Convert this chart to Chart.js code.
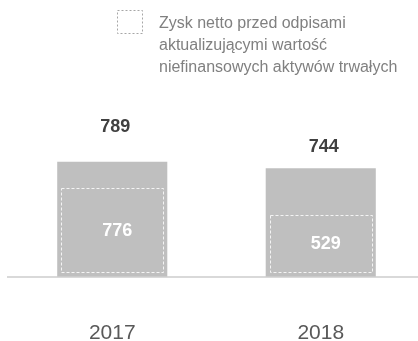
<!DOCTYPE html>
<html>
<head>
<meta charset="utf-8">
<script src="https://cdn.jsdelivr.net/npm/chart.js@4"></script>
<style>
  html, body { margin: 0; padding: 0; background: #fff; overflow: hidden; }
  #wrap { position: relative; width: 430px; height: 390px; }
</style>
</head>
<body>
<div id="wrap"><canvas id="profitChart"></canvas></div>
<script>
// ------------------------------------------------------------
// Data
// ------------------------------------------------------------
const years = ["2017", "2018"];
const netProfit = [789, 744];
const profitBeforeWriteOffs = [776, 529];
const legendLines = [
  "Zysk netto przed odpisami",
  "aktualizującymi wartość",
  "niefinansowych aktywów trwałych",
];

const FONT = "'Liberation Sans', Arial, sans-serif";

// ------------------------------------------------------------
// Plugin: dashed inner boxes, value labels and the legend
// ------------------------------------------------------------
const decorations = {
  id: "decorations",
  afterDatasetsDraw(chart) {
    const ctx = chart.ctx;
    const outer = chart.getDatasetMeta(0).data;
    const inner = chart.getDatasetMeta(1).data;

    ctx.save();
    ctx.textAlign = "center";
    ctx.textBaseline = "middle";

    // dashed box for the "before write-offs" series
    inner.forEach((bar, i) => {
      const left = bar.x - bar.width / 2;
      const top = bar.y;
      ctx.setLineDash([3, 2]);
      ctx.strokeStyle = "#f4f4f4";
      ctx.lineWidth = 1;
      ctx.strokeRect(Math.round(left) + 0.5, Math.round(top) + 0.5,
        Math.round(bar.width), Math.round(bar.base - top));
      ctx.setLineDash([]);

      ctx.fillStyle = "#ffffff";
      ctx.font = "bold 18px " + FONT;
      ctx.fillText(String(profitBeforeWriteOffs[i]), bar.x + 5, (top + bar.base) / 2 + 1);
    });

    // totals above the grey bars
    const lift = [35, 21];
    outer.forEach((bar, i) => {
      ctx.fillStyle = "#404040";
      ctx.font = "bold 18px " + FONT;
      ctx.fillText(String(netProfit[i]), bar.x + 3, bar.y - lift[i]);
    });

    // legend: dashed swatch + three lines of text
    ctx.setLineDash([2, 2]);
    ctx.strokeStyle = "#a6a6a6";
    ctx.lineWidth = 1;
    ctx.strokeRect(117.5, 10.5, 25, 23);
    ctx.setLineDash([]);
    ctx.textAlign = "left";
    ctx.textBaseline = "alphabetic";
    ctx.fillStyle = "#808080";
    ctx.font = "16px " + FONT;
    legendLines.forEach((line, i) => {
      ctx.fillText(line, 159, 28 + i * 22);
    });
    ctx.restore();
  },
};

// ------------------------------------------------------------
// Chart
// ------------------------------------------------------------
const ctx = document.getElementById("profitChart").getContext("2d");

new Chart(ctx, {
  type: "bar",
  data: {
    labels: years,
    datasets: [
      {
        label: "Zysk netto",
        data: netProfit,
        yAxisID: "y",
        backgroundColor: "#bfbfbf",
        barPercentage: 0.528,
        categoryPercentage: 1,
        grouped: false,
        order: 2,
      },
      {
        label: legendLines.join(" "),
        data: profitBeforeWriteOffs,
        yAxisID: "y2",
        backgroundColor: "rgba(0,0,0,0)",
        barPercentage: 0.487,
        categoryPercentage: 1,
        grouped: false,
        order: 1,
      },
    ],
  },
  options: {
    responsive: true,
    maintainAspectRatio: false,
    animation: false,
    layout: {
      padding: { top: 131, left: 8, right: 5, bottom: 0 },
    },
    scales: {
      x: {
        grid: { display: false, drawTicks: false },
        border: { display: true, color: "#d9d9d9", width: 2 },
        ticks: {
          color: "#595959",
          padding: 44,
          font: { family: FONT, size: 21 },
        },
      },
      y: {
        display: false,
        min: 0,
        max: 1000,
      },
      y2: {
        display: false,
        min: -46,
        max: 1301,
      },
    },
    plugins: {
      legend: { display: false },
      tooltip: { enabled: false },
    },
  },
  plugins: [decorations],
});
</script>
</body>
</html>
